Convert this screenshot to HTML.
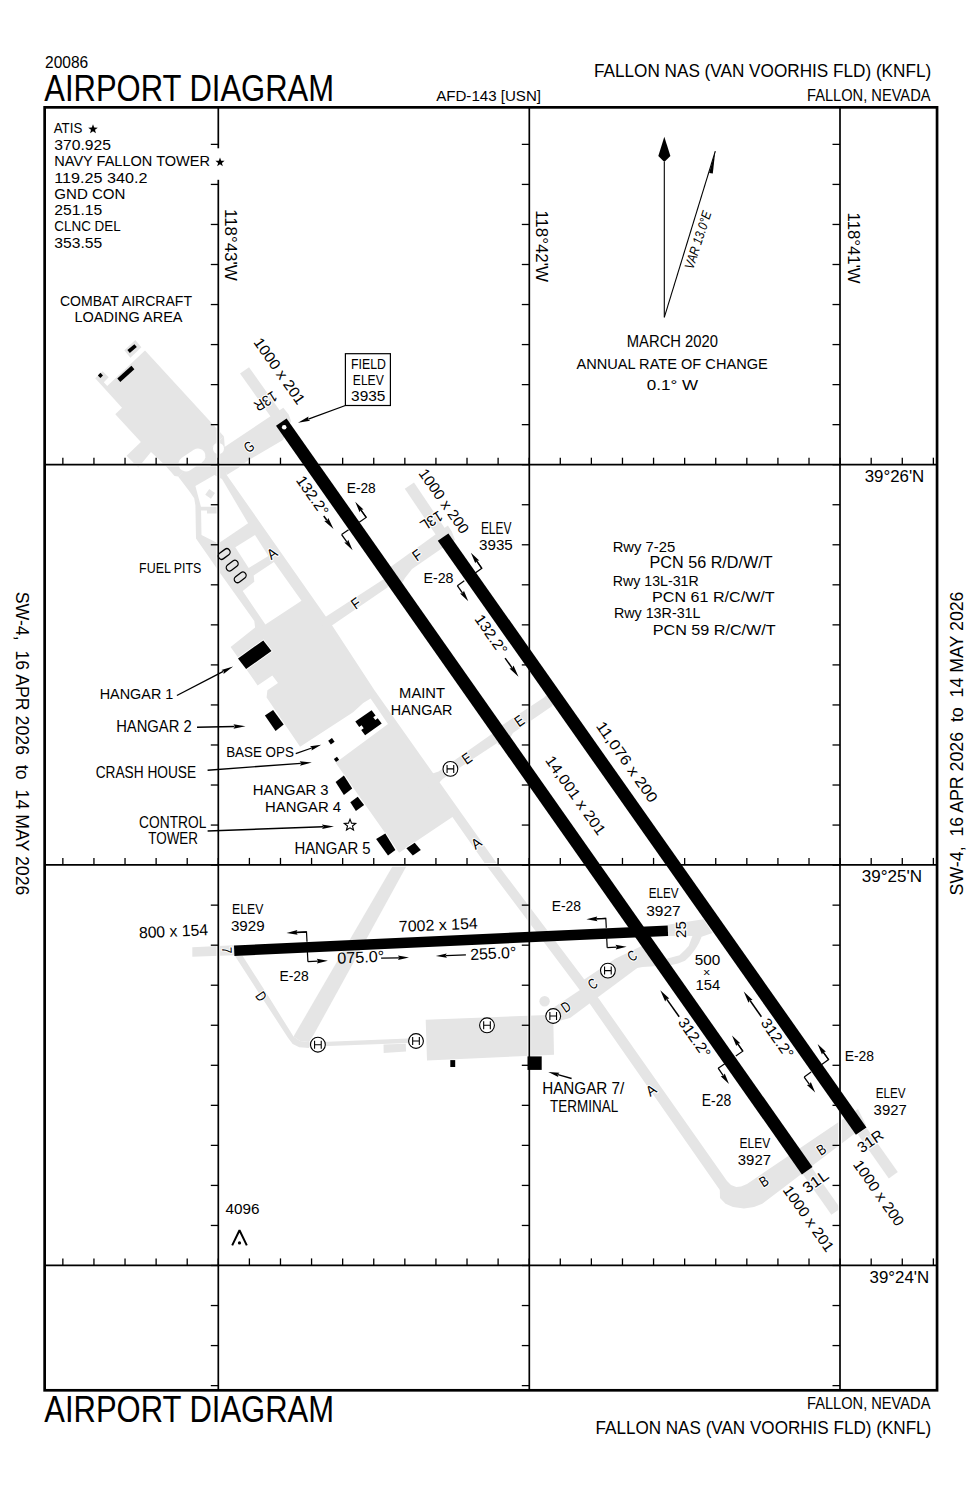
<!DOCTYPE html>
<html><head><meta charset="utf-8"><style>
html,body{margin:0;padding:0;background:#fff;}
svg{display:block;}
text{font-family:"Liberation Sans",sans-serif;fill:#000;}
</style></head><body>
<svg width="979" height="1500" viewBox="0 0 979 1500">
<rect x="0" y="0" width="979" height="1500" fill="#fff"/>
<polygon points="145.0,350.5 224.0,436.5 214.8,444.1 205.0,455.0 178.1,476.6 174.6,476.1 165.4,465.4 151.0,452.0 138.3,467.4 126.6,455.7 140.9,441.9 115.3,414.3 122.0,407.7 95.2,378.2 102.6,371.2 108.7,377.3 103.8,382.2 107.2,385.9" fill="#e5e5e5"/>
<polygon points="124.3,350.3 135.3,339.9 141.4,347.3 130.4,357.7" fill="#e5e5e5"/>
<polygon points="224.0,436.5 226.7,474.9 332.8,626.5 374.3,690.0 498.0,865.0 599.8,1000.0 727.0,1181.0 731.0,1185.0 736.2,1187.0 741.0,1186.5 747.0,1183.9 858.0,1109.0 866.0,1125.0 762.3,1203.8 754.0,1207.0 743.9,1208.4 733.0,1207.0 725.5,1203.8 720.0,1198.0 719.8,1190.0 587.2,1000.0 485.3,863.9 452.4,817.0 399.1,852.8 335.6,762.7 388.0,724.1 370.6,698.4 363.2,703.0 353.1,712.2 300.1,746.7 266.6,697.6 267.4,690.3 278.0,682.9 272.3,675.6 257.6,685.4 230.6,647.0 255.1,627.4 254.3,620.9 220.0,573.1 196.0,538.6 195.4,505.5 194.2,498.2 189.9,491.9 178.1,476.6" fill="#e5e5e5"/>
<polygon points="221.5,449.0 283.3,407.7 288.7,414.6 291.0,421.0 283.0,440.0 248.0,460.5 238.9,467.4 226.7,474.9" fill="#e5e5e5"/>
<polygon points="285.8,418.9 249.0,367.2 240.0,373.6 276.8,425.3" fill="#e5e5e5"/>
<polygon points="320.0,620.0 326.1,616.5 382.8,579.8 395.0,572.0 387.4,587.4 331.5,625.7 325.0,632.0" fill="#e5e5e5"/>
<polygon points="385.0,571.0 447.9,525.4 451.8,531.5 455.0,540.0 441.0,549.1 412.0,569.0 405.0,578.0 401.0,585.0 393.0,581.0" fill="#e5e5e5"/>
<polygon points="448.7,534.0 414.0,482.6 404.8,488.8 439.5,540.2" fill="#e5e5e5"/>
<polygon points="802.7,1173.9 831.4,1214.8 840.4,1208.5 811.7,1167.5" fill="#e5e5e5"/>
<polygon points="857.7,1134.3 888.8,1178.4 897.8,1172.1 866.7,1127.9" fill="#e5e5e5"/>
<polygon points="425.0,776.0 438.6,771.5 491.5,734.3 500.0,730.0 497.2,742.9 442.9,778.7 430.0,792.0" fill="#e5e5e5"/>
<polygon points="495.0,730.0 544.4,697.2 552.0,690.0 556.0,700.0 551.6,706.5 512.9,732.9 508.0,742.0 498.0,745.0" fill="#e5e5e5"/>
<polygon points="192.3,947.3 234.2,945.2 234.2,955.2 192.3,956.8" fill="#e5e5e5"/>
<polygon points="393.0,865.5 406.8,865.5 338.4,990.0 313.1,1035.8 309.0,1042.0 300.0,1041.0 293.5,1036.6 320.5,990.0" fill="#e5e5e5"/>
<polygon points="235.0,956.0 242.7,956.0 270.6,999.8 293.5,1036.6 300.0,1041.0 309.0,1042.0 309.0,1048.0 299.2,1047.2 292.7,1043.9 287.8,1037.4 264.9,1002.3" fill="#e5e5e5"/>
<polygon points="309.0,1042.4 408.3,1038.4 408.3,1042.9 309.0,1046.8" fill="#e5e5e5"/>
<polygon points="383.5,1044.6 405.8,1043.7 406.0,1051.4 383.7,1052.9" fill="#e5e5e5"/>
<polygon points="425.7,1019.7 553.2,1014.8 554.0,1054.7 427.0,1060.6" fill="#e5e5e5"/>
<polygon points="553.0,1008.0 640.0,950.0 648.0,960.0 570.0,1018.0 555.0,1022.0" fill="#e5e5e5"/>
<circle cx="544.6" cy="1001.3" r="5.2" fill="#e5e5e5"/>
<polygon points="582.0,980.9 615.2,958.8 643.7,945.0 650.0,942.0 657.4,959.8 666.6,958.8 679.5,955.2 685.0,950.0 688.7,946.0 692.4,935.9 667.6,935.9 667.6,924.8 703.4,919.3 712.6,933.1 701.6,936.8 699.0,943.0 695.1,949.6 690.0,956.0 685.0,960.7 678.0,963.5 670.3,965.3 642.7,967.1 626.2,969.9 596.8,991.9" fill="#e5e5e5"/>
<polygon points="195.4,486.0 214.4,475.0 222.0,479.0 248.1,523.3 218.3,543.5 201.5,535.0 201.0,507.0" fill="#fff"/>
<polygon points="235.3,547.2 255.0,535.0 268.4,555.9 248.7,568.1" fill="#fff"/>
<polygon points="242.7,590.9 254.3,581.7 253.7,575.5 273.9,562.1 301.5,600.7 265.4,624.6" fill="#fff"/>
<line x1="186.00" y1="464.00" x2="198.00" y2="456.00" stroke="#fff" stroke-width="15" stroke-linecap="round"/>
<circle cx="218.5" cy="448.5" r="5.5" fill="#fff"/>
<rect x="-3.5" y="-3.5" width="7" height="7" fill="#e5e5e5" transform="translate(210.1,493.9) rotate(35)"/>
<polygon points="200.9,506.8 218.3,506.8 218.3,513.5 207.0,513.5 207.0,510.4 200.9,510.4" fill="#e5e5e5"/>
<line x1="44.65" y1="464.70" x2="937.05" y2="464.70" stroke="#fff" stroke-width="3.6"/>
<line x1="44.65" y1="864.90" x2="937.05" y2="864.90" stroke="#fff" stroke-width="3.6"/>
<line x1="44.65" y1="1265.40" x2="937.05" y2="1265.40" stroke="#fff" stroke-width="3.6"/>
<line x1="218.30" y1="107.35" x2="218.30" y2="1390.30" stroke="#fff" stroke-width="3.6"/>
<line x1="529.30" y1="107.35" x2="529.30" y2="1390.30" stroke="#fff" stroke-width="3.6"/>
<line x1="840.00" y1="107.35" x2="840.00" y2="1390.30" stroke="#fff" stroke-width="3.6"/>
<line x1="44.65" y1="464.70" x2="937.05" y2="464.70" stroke="#000" stroke-width="1.7"/>
<line x1="44.65" y1="864.90" x2="937.05" y2="864.90" stroke="#000" stroke-width="1.7"/>
<line x1="44.65" y1="1265.40" x2="937.05" y2="1265.40" stroke="#000" stroke-width="1.7"/>
<line x1="218.30" y1="107.35" x2="218.30" y2="1390.30" stroke="#000" stroke-width="1.7"/>
<line x1="529.30" y1="107.35" x2="529.30" y2="1390.30" stroke="#000" stroke-width="1.7"/>
<line x1="840.00" y1="107.35" x2="840.00" y2="1390.30" stroke="#000" stroke-width="1.7"/>
<rect x="215" y="148.3" width="6" height="31.5" fill="#fff"/>
<line x1="62.85" y1="457.70" x2="62.85" y2="464.70" stroke="#000" stroke-width="1.3"/>
<line x1="93.94" y1="457.70" x2="93.94" y2="464.70" stroke="#000" stroke-width="1.3"/>
<line x1="125.03" y1="457.70" x2="125.03" y2="464.70" stroke="#000" stroke-width="1.3"/>
<line x1="156.12" y1="457.70" x2="156.12" y2="464.70" stroke="#000" stroke-width="1.3"/>
<line x1="187.21" y1="457.70" x2="187.21" y2="464.70" stroke="#000" stroke-width="1.3"/>
<line x1="218.30" y1="457.70" x2="218.30" y2="464.70" stroke="#000" stroke-width="1.3"/>
<line x1="249.39" y1="457.70" x2="249.39" y2="464.70" stroke="#000" stroke-width="1.3"/>
<line x1="280.48" y1="457.70" x2="280.48" y2="464.70" stroke="#000" stroke-width="1.3"/>
<line x1="311.57" y1="457.70" x2="311.57" y2="464.70" stroke="#000" stroke-width="1.3"/>
<line x1="342.66" y1="457.70" x2="342.66" y2="464.70" stroke="#000" stroke-width="1.3"/>
<line x1="373.75" y1="457.70" x2="373.75" y2="464.70" stroke="#000" stroke-width="1.3"/>
<line x1="404.84" y1="457.70" x2="404.84" y2="464.70" stroke="#000" stroke-width="1.3"/>
<line x1="435.93" y1="457.70" x2="435.93" y2="464.70" stroke="#000" stroke-width="1.3"/>
<line x1="467.02" y1="457.70" x2="467.02" y2="464.70" stroke="#000" stroke-width="1.3"/>
<line x1="498.11" y1="457.70" x2="498.11" y2="464.70" stroke="#000" stroke-width="1.3"/>
<line x1="529.20" y1="457.70" x2="529.20" y2="464.70" stroke="#000" stroke-width="1.3"/>
<line x1="560.29" y1="457.70" x2="560.29" y2="464.70" stroke="#000" stroke-width="1.3"/>
<line x1="591.38" y1="457.70" x2="591.38" y2="464.70" stroke="#000" stroke-width="1.3"/>
<line x1="622.47" y1="457.70" x2="622.47" y2="464.70" stroke="#000" stroke-width="1.3"/>
<line x1="653.56" y1="457.70" x2="653.56" y2="464.70" stroke="#000" stroke-width="1.3"/>
<line x1="684.65" y1="457.70" x2="684.65" y2="464.70" stroke="#000" stroke-width="1.3"/>
<line x1="715.74" y1="457.70" x2="715.74" y2="464.70" stroke="#000" stroke-width="1.3"/>
<line x1="746.83" y1="457.70" x2="746.83" y2="464.70" stroke="#000" stroke-width="1.3"/>
<line x1="777.92" y1="457.70" x2="777.92" y2="464.70" stroke="#000" stroke-width="1.3"/>
<line x1="809.01" y1="457.70" x2="809.01" y2="464.70" stroke="#000" stroke-width="1.3"/>
<line x1="840.10" y1="457.70" x2="840.10" y2="464.70" stroke="#000" stroke-width="1.3"/>
<line x1="871.19" y1="457.70" x2="871.19" y2="464.70" stroke="#000" stroke-width="1.3"/>
<line x1="902.28" y1="457.70" x2="902.28" y2="464.70" stroke="#000" stroke-width="1.3"/>
<line x1="933.37" y1="457.70" x2="933.37" y2="464.70" stroke="#000" stroke-width="1.3"/>
<line x1="62.85" y1="857.90" x2="62.85" y2="864.90" stroke="#000" stroke-width="1.3"/>
<line x1="93.94" y1="857.90" x2="93.94" y2="864.90" stroke="#000" stroke-width="1.3"/>
<line x1="125.03" y1="857.90" x2="125.03" y2="864.90" stroke="#000" stroke-width="1.3"/>
<line x1="156.12" y1="857.90" x2="156.12" y2="864.90" stroke="#000" stroke-width="1.3"/>
<line x1="187.21" y1="857.90" x2="187.21" y2="864.90" stroke="#000" stroke-width="1.3"/>
<line x1="218.30" y1="857.90" x2="218.30" y2="864.90" stroke="#000" stroke-width="1.3"/>
<line x1="249.39" y1="857.90" x2="249.39" y2="864.90" stroke="#000" stroke-width="1.3"/>
<line x1="280.48" y1="857.90" x2="280.48" y2="864.90" stroke="#000" stroke-width="1.3"/>
<line x1="311.57" y1="857.90" x2="311.57" y2="864.90" stroke="#000" stroke-width="1.3"/>
<line x1="342.66" y1="857.90" x2="342.66" y2="864.90" stroke="#000" stroke-width="1.3"/>
<line x1="373.75" y1="857.90" x2="373.75" y2="864.90" stroke="#000" stroke-width="1.3"/>
<line x1="404.84" y1="857.90" x2="404.84" y2="864.90" stroke="#000" stroke-width="1.3"/>
<line x1="435.93" y1="857.90" x2="435.93" y2="864.90" stroke="#000" stroke-width="1.3"/>
<line x1="467.02" y1="857.90" x2="467.02" y2="864.90" stroke="#000" stroke-width="1.3"/>
<line x1="498.11" y1="857.90" x2="498.11" y2="864.90" stroke="#000" stroke-width="1.3"/>
<line x1="529.20" y1="857.90" x2="529.20" y2="864.90" stroke="#000" stroke-width="1.3"/>
<line x1="560.29" y1="857.90" x2="560.29" y2="864.90" stroke="#000" stroke-width="1.3"/>
<line x1="591.38" y1="857.90" x2="591.38" y2="864.90" stroke="#000" stroke-width="1.3"/>
<line x1="622.47" y1="857.90" x2="622.47" y2="864.90" stroke="#000" stroke-width="1.3"/>
<line x1="653.56" y1="857.90" x2="653.56" y2="864.90" stroke="#000" stroke-width="1.3"/>
<line x1="684.65" y1="857.90" x2="684.65" y2="864.90" stroke="#000" stroke-width="1.3"/>
<line x1="715.74" y1="857.90" x2="715.74" y2="864.90" stroke="#000" stroke-width="1.3"/>
<line x1="746.83" y1="857.90" x2="746.83" y2="864.90" stroke="#000" stroke-width="1.3"/>
<line x1="777.92" y1="857.90" x2="777.92" y2="864.90" stroke="#000" stroke-width="1.3"/>
<line x1="809.01" y1="857.90" x2="809.01" y2="864.90" stroke="#000" stroke-width="1.3"/>
<line x1="840.10" y1="857.90" x2="840.10" y2="864.90" stroke="#000" stroke-width="1.3"/>
<line x1="871.19" y1="857.90" x2="871.19" y2="864.90" stroke="#000" stroke-width="1.3"/>
<line x1="902.28" y1="857.90" x2="902.28" y2="864.90" stroke="#000" stroke-width="1.3"/>
<line x1="933.37" y1="857.90" x2="933.37" y2="864.90" stroke="#000" stroke-width="1.3"/>
<line x1="62.85" y1="1258.40" x2="62.85" y2="1265.40" stroke="#000" stroke-width="1.3"/>
<line x1="93.94" y1="1258.40" x2="93.94" y2="1265.40" stroke="#000" stroke-width="1.3"/>
<line x1="125.03" y1="1258.40" x2="125.03" y2="1265.40" stroke="#000" stroke-width="1.3"/>
<line x1="156.12" y1="1258.40" x2="156.12" y2="1265.40" stroke="#000" stroke-width="1.3"/>
<line x1="187.21" y1="1258.40" x2="187.21" y2="1265.40" stroke="#000" stroke-width="1.3"/>
<line x1="218.30" y1="1258.40" x2="218.30" y2="1265.40" stroke="#000" stroke-width="1.3"/>
<line x1="249.39" y1="1258.40" x2="249.39" y2="1265.40" stroke="#000" stroke-width="1.3"/>
<line x1="280.48" y1="1258.40" x2="280.48" y2="1265.40" stroke="#000" stroke-width="1.3"/>
<line x1="311.57" y1="1258.40" x2="311.57" y2="1265.40" stroke="#000" stroke-width="1.3"/>
<line x1="342.66" y1="1258.40" x2="342.66" y2="1265.40" stroke="#000" stroke-width="1.3"/>
<line x1="373.75" y1="1258.40" x2="373.75" y2="1265.40" stroke="#000" stroke-width="1.3"/>
<line x1="404.84" y1="1258.40" x2="404.84" y2="1265.40" stroke="#000" stroke-width="1.3"/>
<line x1="435.93" y1="1258.40" x2="435.93" y2="1265.40" stroke="#000" stroke-width="1.3"/>
<line x1="467.02" y1="1258.40" x2="467.02" y2="1265.40" stroke="#000" stroke-width="1.3"/>
<line x1="498.11" y1="1258.40" x2="498.11" y2="1265.40" stroke="#000" stroke-width="1.3"/>
<line x1="529.20" y1="1258.40" x2="529.20" y2="1265.40" stroke="#000" stroke-width="1.3"/>
<line x1="560.29" y1="1258.40" x2="560.29" y2="1265.40" stroke="#000" stroke-width="1.3"/>
<line x1="591.38" y1="1258.40" x2="591.38" y2="1265.40" stroke="#000" stroke-width="1.3"/>
<line x1="622.47" y1="1258.40" x2="622.47" y2="1265.40" stroke="#000" stroke-width="1.3"/>
<line x1="653.56" y1="1258.40" x2="653.56" y2="1265.40" stroke="#000" stroke-width="1.3"/>
<line x1="684.65" y1="1258.40" x2="684.65" y2="1265.40" stroke="#000" stroke-width="1.3"/>
<line x1="715.74" y1="1258.40" x2="715.74" y2="1265.40" stroke="#000" stroke-width="1.3"/>
<line x1="746.83" y1="1258.40" x2="746.83" y2="1265.40" stroke="#000" stroke-width="1.3"/>
<line x1="777.92" y1="1258.40" x2="777.92" y2="1265.40" stroke="#000" stroke-width="1.3"/>
<line x1="809.01" y1="1258.40" x2="809.01" y2="1265.40" stroke="#000" stroke-width="1.3"/>
<line x1="840.10" y1="1258.40" x2="840.10" y2="1265.40" stroke="#000" stroke-width="1.3"/>
<line x1="871.19" y1="1258.40" x2="871.19" y2="1265.40" stroke="#000" stroke-width="1.3"/>
<line x1="902.28" y1="1258.40" x2="902.28" y2="1265.40" stroke="#000" stroke-width="1.3"/>
<line x1="933.37" y1="1258.40" x2="933.37" y2="1265.40" stroke="#000" stroke-width="1.3"/>
<line x1="210.80" y1="144.38" x2="218.30" y2="144.38" stroke="#000" stroke-width="1.3"/>
<line x1="210.80" y1="184.42" x2="218.30" y2="184.42" stroke="#000" stroke-width="1.3"/>
<line x1="210.80" y1="224.46" x2="218.30" y2="224.46" stroke="#000" stroke-width="1.3"/>
<line x1="210.80" y1="264.50" x2="218.30" y2="264.50" stroke="#000" stroke-width="1.3"/>
<line x1="210.80" y1="304.54" x2="218.30" y2="304.54" stroke="#000" stroke-width="1.3"/>
<line x1="210.80" y1="344.58" x2="218.30" y2="344.58" stroke="#000" stroke-width="1.3"/>
<line x1="210.80" y1="384.62" x2="218.30" y2="384.62" stroke="#000" stroke-width="1.3"/>
<line x1="210.80" y1="424.66" x2="218.30" y2="424.66" stroke="#000" stroke-width="1.3"/>
<line x1="210.80" y1="464.70" x2="218.30" y2="464.70" stroke="#000" stroke-width="1.3"/>
<line x1="210.80" y1="504.74" x2="218.30" y2="504.74" stroke="#000" stroke-width="1.3"/>
<line x1="210.80" y1="544.78" x2="218.30" y2="544.78" stroke="#000" stroke-width="1.3"/>
<line x1="210.80" y1="584.82" x2="218.30" y2="584.82" stroke="#000" stroke-width="1.3"/>
<line x1="210.80" y1="624.86" x2="218.30" y2="624.86" stroke="#000" stroke-width="1.3"/>
<line x1="210.80" y1="664.90" x2="218.30" y2="664.90" stroke="#000" stroke-width="1.3"/>
<line x1="210.80" y1="704.94" x2="218.30" y2="704.94" stroke="#000" stroke-width="1.3"/>
<line x1="210.80" y1="744.98" x2="218.30" y2="744.98" stroke="#000" stroke-width="1.3"/>
<line x1="210.80" y1="785.02" x2="218.30" y2="785.02" stroke="#000" stroke-width="1.3"/>
<line x1="210.80" y1="825.06" x2="218.30" y2="825.06" stroke="#000" stroke-width="1.3"/>
<line x1="210.80" y1="865.10" x2="218.30" y2="865.10" stroke="#000" stroke-width="1.3"/>
<line x1="210.80" y1="905.14" x2="218.30" y2="905.14" stroke="#000" stroke-width="1.3"/>
<line x1="210.80" y1="945.18" x2="218.30" y2="945.18" stroke="#000" stroke-width="1.3"/>
<line x1="210.80" y1="985.22" x2="218.30" y2="985.22" stroke="#000" stroke-width="1.3"/>
<line x1="210.80" y1="1025.26" x2="218.30" y2="1025.26" stroke="#000" stroke-width="1.3"/>
<line x1="210.80" y1="1065.30" x2="218.30" y2="1065.30" stroke="#000" stroke-width="1.3"/>
<line x1="210.80" y1="1105.34" x2="218.30" y2="1105.34" stroke="#000" stroke-width="1.3"/>
<line x1="210.80" y1="1145.38" x2="218.30" y2="1145.38" stroke="#000" stroke-width="1.3"/>
<line x1="210.80" y1="1185.42" x2="218.30" y2="1185.42" stroke="#000" stroke-width="1.3"/>
<line x1="210.80" y1="1225.46" x2="218.30" y2="1225.46" stroke="#000" stroke-width="1.3"/>
<line x1="210.80" y1="1265.50" x2="218.30" y2="1265.50" stroke="#000" stroke-width="1.3"/>
<line x1="210.80" y1="1305.54" x2="218.30" y2="1305.54" stroke="#000" stroke-width="1.3"/>
<line x1="210.80" y1="1345.58" x2="218.30" y2="1345.58" stroke="#000" stroke-width="1.3"/>
<line x1="210.80" y1="1385.62" x2="218.30" y2="1385.62" stroke="#000" stroke-width="1.3"/>
<line x1="521.80" y1="144.38" x2="529.30" y2="144.38" stroke="#000" stroke-width="1.3"/>
<line x1="521.80" y1="184.42" x2="529.30" y2="184.42" stroke="#000" stroke-width="1.3"/>
<line x1="521.80" y1="224.46" x2="529.30" y2="224.46" stroke="#000" stroke-width="1.3"/>
<line x1="521.80" y1="264.50" x2="529.30" y2="264.50" stroke="#000" stroke-width="1.3"/>
<line x1="521.80" y1="304.54" x2="529.30" y2="304.54" stroke="#000" stroke-width="1.3"/>
<line x1="521.80" y1="344.58" x2="529.30" y2="344.58" stroke="#000" stroke-width="1.3"/>
<line x1="521.80" y1="384.62" x2="529.30" y2="384.62" stroke="#000" stroke-width="1.3"/>
<line x1="521.80" y1="424.66" x2="529.30" y2="424.66" stroke="#000" stroke-width="1.3"/>
<line x1="521.80" y1="464.70" x2="529.30" y2="464.70" stroke="#000" stroke-width="1.3"/>
<line x1="521.80" y1="504.74" x2="529.30" y2="504.74" stroke="#000" stroke-width="1.3"/>
<line x1="521.80" y1="544.78" x2="529.30" y2="544.78" stroke="#000" stroke-width="1.3"/>
<line x1="521.80" y1="584.82" x2="529.30" y2="584.82" stroke="#000" stroke-width="1.3"/>
<line x1="521.80" y1="624.86" x2="529.30" y2="624.86" stroke="#000" stroke-width="1.3"/>
<line x1="521.80" y1="664.90" x2="529.30" y2="664.90" stroke="#000" stroke-width="1.3"/>
<line x1="521.80" y1="704.94" x2="529.30" y2="704.94" stroke="#000" stroke-width="1.3"/>
<line x1="521.80" y1="744.98" x2="529.30" y2="744.98" stroke="#000" stroke-width="1.3"/>
<line x1="521.80" y1="785.02" x2="529.30" y2="785.02" stroke="#000" stroke-width="1.3"/>
<line x1="521.80" y1="825.06" x2="529.30" y2="825.06" stroke="#000" stroke-width="1.3"/>
<line x1="521.80" y1="865.10" x2="529.30" y2="865.10" stroke="#000" stroke-width="1.3"/>
<line x1="521.80" y1="905.14" x2="529.30" y2="905.14" stroke="#000" stroke-width="1.3"/>
<line x1="521.80" y1="945.18" x2="529.30" y2="945.18" stroke="#000" stroke-width="1.3"/>
<line x1="521.80" y1="985.22" x2="529.30" y2="985.22" stroke="#000" stroke-width="1.3"/>
<line x1="521.80" y1="1025.26" x2="529.30" y2="1025.26" stroke="#000" stroke-width="1.3"/>
<line x1="521.80" y1="1065.30" x2="529.30" y2="1065.30" stroke="#000" stroke-width="1.3"/>
<line x1="521.80" y1="1105.34" x2="529.30" y2="1105.34" stroke="#000" stroke-width="1.3"/>
<line x1="521.80" y1="1145.38" x2="529.30" y2="1145.38" stroke="#000" stroke-width="1.3"/>
<line x1="521.80" y1="1185.42" x2="529.30" y2="1185.42" stroke="#000" stroke-width="1.3"/>
<line x1="521.80" y1="1225.46" x2="529.30" y2="1225.46" stroke="#000" stroke-width="1.3"/>
<line x1="521.80" y1="1265.50" x2="529.30" y2="1265.50" stroke="#000" stroke-width="1.3"/>
<line x1="521.80" y1="1305.54" x2="529.30" y2="1305.54" stroke="#000" stroke-width="1.3"/>
<line x1="521.80" y1="1345.58" x2="529.30" y2="1345.58" stroke="#000" stroke-width="1.3"/>
<line x1="521.80" y1="1385.62" x2="529.30" y2="1385.62" stroke="#000" stroke-width="1.3"/>
<line x1="832.50" y1="144.38" x2="840.00" y2="144.38" stroke="#000" stroke-width="1.3"/>
<line x1="832.50" y1="184.42" x2="840.00" y2="184.42" stroke="#000" stroke-width="1.3"/>
<line x1="832.50" y1="224.46" x2="840.00" y2="224.46" stroke="#000" stroke-width="1.3"/>
<line x1="832.50" y1="264.50" x2="840.00" y2="264.50" stroke="#000" stroke-width="1.3"/>
<line x1="832.50" y1="304.54" x2="840.00" y2="304.54" stroke="#000" stroke-width="1.3"/>
<line x1="832.50" y1="344.58" x2="840.00" y2="344.58" stroke="#000" stroke-width="1.3"/>
<line x1="832.50" y1="384.62" x2="840.00" y2="384.62" stroke="#000" stroke-width="1.3"/>
<line x1="832.50" y1="424.66" x2="840.00" y2="424.66" stroke="#000" stroke-width="1.3"/>
<line x1="832.50" y1="464.70" x2="840.00" y2="464.70" stroke="#000" stroke-width="1.3"/>
<line x1="832.50" y1="504.74" x2="840.00" y2="504.74" stroke="#000" stroke-width="1.3"/>
<line x1="832.50" y1="544.78" x2="840.00" y2="544.78" stroke="#000" stroke-width="1.3"/>
<line x1="832.50" y1="584.82" x2="840.00" y2="584.82" stroke="#000" stroke-width="1.3"/>
<line x1="832.50" y1="624.86" x2="840.00" y2="624.86" stroke="#000" stroke-width="1.3"/>
<line x1="832.50" y1="664.90" x2="840.00" y2="664.90" stroke="#000" stroke-width="1.3"/>
<line x1="832.50" y1="704.94" x2="840.00" y2="704.94" stroke="#000" stroke-width="1.3"/>
<line x1="832.50" y1="744.98" x2="840.00" y2="744.98" stroke="#000" stroke-width="1.3"/>
<line x1="832.50" y1="785.02" x2="840.00" y2="785.02" stroke="#000" stroke-width="1.3"/>
<line x1="832.50" y1="825.06" x2="840.00" y2="825.06" stroke="#000" stroke-width="1.3"/>
<line x1="832.50" y1="865.10" x2="840.00" y2="865.10" stroke="#000" stroke-width="1.3"/>
<line x1="832.50" y1="905.14" x2="840.00" y2="905.14" stroke="#000" stroke-width="1.3"/>
<line x1="832.50" y1="945.18" x2="840.00" y2="945.18" stroke="#000" stroke-width="1.3"/>
<line x1="832.50" y1="985.22" x2="840.00" y2="985.22" stroke="#000" stroke-width="1.3"/>
<line x1="832.50" y1="1025.26" x2="840.00" y2="1025.26" stroke="#000" stroke-width="1.3"/>
<line x1="832.50" y1="1065.30" x2="840.00" y2="1065.30" stroke="#000" stroke-width="1.3"/>
<line x1="832.50" y1="1105.34" x2="840.00" y2="1105.34" stroke="#000" stroke-width="1.3"/>
<line x1="832.50" y1="1145.38" x2="840.00" y2="1145.38" stroke="#000" stroke-width="1.3"/>
<line x1="832.50" y1="1185.42" x2="840.00" y2="1185.42" stroke="#000" stroke-width="1.3"/>
<line x1="832.50" y1="1225.46" x2="840.00" y2="1225.46" stroke="#000" stroke-width="1.3"/>
<line x1="832.50" y1="1265.50" x2="840.00" y2="1265.50" stroke="#000" stroke-width="1.3"/>
<line x1="832.50" y1="1305.54" x2="840.00" y2="1305.54" stroke="#000" stroke-width="1.3"/>
<line x1="832.50" y1="1345.58" x2="840.00" y2="1345.58" stroke="#000" stroke-width="1.3"/>
<line x1="832.50" y1="1385.62" x2="840.00" y2="1385.62" stroke="#000" stroke-width="1.3"/>
<rect x="44.65" y="107.35" width="892.4" height="1282.95" fill="none" stroke="#000" stroke-width="2.7"/>
<polygon points="276.0,425.8 801.9,1174.4 812.5,1167.0 286.6,418.4" fill="#000"/>
<polygon points="437.8,540.8 855.9,1134.8 866.5,1127.4 448.4,533.4" fill="#000"/>
<polygon points="234.4,955.9 668.1,935.9 667.7,925.5 234.0,945.5" fill="#000"/>
<circle cx="284.2" cy="427.3" r="2.3" fill="#fff"/>
<polygon points="129.8,352.9 136.8,347.1 134.4,344.3 127.4,350.1" fill="#000"/>
<polygon points="120.3,382.0 134.4,369.2 131.4,365.8 117.3,378.6" fill="#000"/>
<rect x="-1.8" y="-1.8" width="3.6" height="3.6" fill="#000" transform="translate(100.4,375.4) rotate(45)"/>
<rect x="-6.6" y="-3.3" width="13.2" height="6.6" rx="3.3" ry="3.3" fill="none" stroke="#000" stroke-width="1.3" transform="translate(224.2,554) rotate(-37)"/>
<rect x="-6.6" y="-3.3" width="13.2" height="6.6" rx="3.3" ry="3.3" fill="none" stroke="#000" stroke-width="1.3" transform="translate(232.2,565.6) rotate(-37)"/>
<rect x="-6.6" y="-3.3" width="13.2" height="6.6" rx="3.3" ry="3.3" fill="none" stroke="#000" stroke-width="1.3" transform="translate(240.2,577.3) rotate(-37)"/>
<polygon points="238.0,658.4 263.3,640.4 271.5,651.0 246.1,669.0" fill="#000" stroke="#fff" stroke-width="1.8" paint-order="stroke" stroke-linejoin="miter"/>
<polygon points="264.9,715.6 273.1,709.9 283.7,724.6 275.6,731.1" fill="#000" stroke="#fff" stroke-width="1.8" paint-order="stroke" stroke-linejoin="miter"/>
<polyline points="359.2,522.3 366.2,517.4 359.3,507.6" fill="none" stroke="#000" stroke-width="1.2"/>
<line x1="366.17" y1="517.37" x2="360.99" y2="510.01" stroke="#000" stroke-width="1.3"/>
<polygon points="355.2,501.8 363.5,509.4 360.9,509.8 359.6,512.2" fill="#000"/>
<polyline points="348.6,529.7 341.6,534.6" fill="none" stroke="#000" stroke-width="1.2"/>
<line x1="341.63" y1="534.63" x2="346.81" y2="541.99" stroke="#000" stroke-width="1.3"/>
<polygon points="352.6,550.2 344.3,542.6 346.9,542.2 348.2,539.8" fill="#000"/>
<polyline points="474.9,573.2 481.8,568.3 474.9,558.5" fill="none" stroke="#000" stroke-width="1.2"/>
<line x1="481.85" y1="568.34" x2="476.66" y2="560.99" stroke="#000" stroke-width="1.3"/>
<polygon points="470.9,552.8 479.2,560.4 476.5,560.8 475.3,563.2" fill="#000"/>
<polyline points="464.3,580.8 457.4,585.7" fill="none" stroke="#000" stroke-width="1.2"/>
<line x1="457.35" y1="585.66" x2="462.54" y2="593.01" stroke="#000" stroke-width="1.3"/>
<polygon points="468.3,601.2 460.0,593.6 462.7,593.2 463.9,590.8" fill="#000"/>
<polyline points="735.8,1056.0 742.8,1051.2 736.0,1041.3" fill="none" stroke="#000" stroke-width="1.2"/>
<line x1="742.84" y1="1051.17" x2="737.72" y2="1043.77" stroke="#000" stroke-width="1.3"/>
<polygon points="732.0,1035.5 740.3,1043.2 737.6,1043.6 736.3,1046.0" fill="#000"/>
<polyline points="725.2,1063.4 718.2,1068.2" fill="none" stroke="#000" stroke-width="1.2"/>
<line x1="718.16" y1="1068.23" x2="723.28" y2="1075.63" stroke="#000" stroke-width="1.3"/>
<polygon points="729.0,1083.9 720.7,1076.2 723.4,1075.8 724.7,1073.4" fill="#000"/>
<polyline points="821.7,1064.5 828.6,1059.6 821.6,1049.8" fill="none" stroke="#000" stroke-width="1.2"/>
<line x1="828.61" y1="1059.59" x2="823.38" y2="1052.26" stroke="#000" stroke-width="1.3"/>
<polygon points="817.6,1044.1 825.9,1051.7 823.3,1052.1 822.0,1054.5" fill="#000"/>
<polyline points="811.1,1072.1 804.2,1077.0" fill="none" stroke="#000" stroke-width="1.2"/>
<line x1="804.19" y1="1077.01" x2="809.42" y2="1084.34" stroke="#000" stroke-width="1.3"/>
<polygon points="815.2,1092.5 806.9,1084.9 809.5,1084.5 810.8,1082.1" fill="#000"/>
<polyline points="307.0,941.7 306.5,932.0 293.5,932.6" fill="none" stroke="#000" stroke-width="1.2"/>
<line x1="306.52" y1="932.02" x2="296.53" y2="932.48" stroke="#000" stroke-width="1.3"/>
<polygon points="286.5,932.9 297.4,930.0 296.3,932.5 297.6,934.8" fill="#000"/>
<polyline points="307.4,951.9 307.9,961.6" fill="none" stroke="#000" stroke-width="1.2"/>
<line x1="307.88" y1="961.58" x2="317.87" y2="961.12" stroke="#000" stroke-width="1.3"/>
<polygon points="327.9,960.7 317.0,963.6 318.1,961.1 316.8,958.8" fill="#000"/>
<polyline points="606.3,927.9 605.8,918.4 593.3,919.0" fill="none" stroke="#000" stroke-width="1.2"/>
<line x1="605.83" y1="918.42" x2="596.34" y2="918.85" stroke="#000" stroke-width="1.3"/>
<polygon points="586.4,919.3 597.2,916.4 596.1,918.9 597.5,921.2" fill="#000"/>
<polyline points="606.7,938.1 607.2,947.6" fill="none" stroke="#000" stroke-width="1.2"/>
<line x1="607.17" y1="947.58" x2="616.66" y2="947.15" stroke="#000" stroke-width="1.3"/>
<polygon points="626.6,946.7 615.8,949.6 616.9,947.1 615.5,944.8" fill="#000"/>
<circle cx="450.4" cy="768.9" r="7.4" fill="#fff" stroke="#000" stroke-width="1.1"/>
<path d="M447.07,764.90V772.90M453.73,764.90V772.90M447.07,768.90H453.73" stroke="#000" stroke-width="1.1" fill="none"/>
<circle cx="317.9" cy="1044.7" r="7.4" fill="#fff" stroke="#000" stroke-width="1.1"/>
<path d="M314.57,1040.70V1048.70M321.23,1040.70V1048.70M314.57,1044.70H321.23" stroke="#000" stroke-width="1.1" fill="none"/>
<circle cx="416" cy="1041" r="7.4" fill="#fff" stroke="#000" stroke-width="1.1"/>
<path d="M412.67,1037.00V1045.00M419.33,1037.00V1045.00M412.67,1041.00H419.33" stroke="#000" stroke-width="1.1" fill="none"/>
<circle cx="487" cy="1025.3" r="7.4" fill="#fff" stroke="#000" stroke-width="1.1"/>
<path d="M483.67,1021.30V1029.30M490.33,1021.30V1029.30M483.67,1025.30H490.33" stroke="#000" stroke-width="1.1" fill="none"/>
<circle cx="553.2" cy="1016" r="7.4" fill="#fff" stroke="#000" stroke-width="1.1"/>
<path d="M549.87,1012.00V1020.00M556.53,1012.00V1020.00M549.87,1016.00H556.53" stroke="#000" stroke-width="1.1" fill="none"/>
<circle cx="607.9" cy="970.6" r="7.4" fill="#fff" stroke="#000" stroke-width="1.1"/>
<path d="M604.57,966.60V974.60M611.23,966.60V974.60M604.57,970.60H611.23" stroke="#000" stroke-width="1.1" fill="none"/>
<polygon points="335.6,782.0 343.9,775.6 352.2,788.5 343.9,794.9" fill="#000" stroke="#fff" stroke-width="1.8" paint-order="stroke" stroke-linejoin="miter"/>
<polygon points="350.3,802.3 357.7,796.8 364.1,805.0 355.9,810.9" fill="#000" stroke="#fff" stroke-width="1.8" paint-order="stroke" stroke-linejoin="miter"/>
<polygon points="376.1,839.0 385.3,833.5 395.4,850.1 388.0,855.6" fill="#000" stroke="#fff" stroke-width="1.8" paint-order="stroke" stroke-linejoin="miter"/>
<polygon points="406.4,848.2 414.7,842.7 420.8,850.1 412.8,855.6" fill="#000" stroke="#fff" stroke-width="1.8" paint-order="stroke" stroke-linejoin="miter"/>
<polygon points="355.3,721.6 371.6,710.2 375.6,715.4 373.2,717.2 375.4,720.1 377.7,718.2 381.7,723.4 365.1,735.3 361.2,729.9 363.7,728.2 361.6,725.2 359.2,727.0" fill="#000" stroke="#fff" stroke-width="1.8" paint-order="stroke" stroke-linejoin="miter"/>
<rect x="-2.3" y="-2.3" width="4.6" height="4.6" fill="#000" transform="translate(331.4,741.2) rotate(-35)"/>
<rect x="-1.9" y="-1.9" width="3.8" height="3.8" fill="#000" transform="translate(336.5,759.4) rotate(-35)"/>
<polygon points="527.5,1056.4 541.7,1056.4 541.7,1069.9 527.5,1069.9" fill="#000"/>
<polygon points="450.3,1060.1 455.2,1060.1 455.2,1067.0 450.3,1067.0" fill="#000"/>
<polygon points="350.00,819.20 351.53,823.10 355.71,823.35 352.47,826.00 353.53,830.05 350.00,827.80 346.47,830.05 347.53,826.00 344.29,823.35 348.47,823.10" fill="#fff" stroke="#000" stroke-width="1.1"/>
<polygon points="93.0,124.2 94.2,127.5 97.8,127.7 95.0,129.8 95.9,133.2 93.0,131.3 90.1,133.2 91.0,129.8 88.2,127.7 91.8,127.5" fill="#000"/>
<polygon points="220.0,157.5 221.2,160.7 224.6,160.8 221.9,162.9 222.8,166.2 220.0,164.3 217.2,166.2 218.1,162.9 215.4,160.8 218.8,160.7" fill="#000"/>
<rect x="345.4" y="353.7" width="45" height="51.8" fill="#fff" stroke="#000" stroke-width="1.2"/>
<text x="351.10" y="368.90" font-size="14.97" textLength="34.80" lengthAdjust="spacingAndGlyphs">FIELD</text>
<text x="352.80" y="384.70" font-size="15.41" textLength="31.00" lengthAdjust="spacingAndGlyphs">ELEV</text>
<text x="351.10" y="400.60" font-size="14.68" textLength="34.30" lengthAdjust="spacingAndGlyphs">3935</text>
<line x1="345.40" y1="405.50" x2="308.33" y2="419.03" stroke="#000" stroke-width="1.3"/>
<polygon points="298.0,422.8 308.5,416.5 307.9,419.2 310.1,420.8" fill="#000"/>
<line x1="664.30" y1="162.00" x2="664.30" y2="317.30" stroke="#000" stroke-width="1.1"/>
<polygon points="664.3,136.7 670.4,156.0 664.3,162.0 658.3,156.0" fill="#000"/>
<line x1="664.30" y1="317.30" x2="715.30" y2="151.10" stroke="#000" stroke-width="1.1"/>
<polygon points="715.3,151.1 709.1,172.9 712.8,173.6" fill="#000"/>
<text transform="translate(693.07,269.93) rotate(-71.93)" x="0" y="0" font-size="13.37" textLength="59.96" lengthAdjust="spacingAndGlyphs" font-style="italic">VAR 13.0°E</text>
<text x="626.80" y="347.20" font-size="15.70" textLength="91.20" lengthAdjust="spacingAndGlyphs">MARCH 2020</text>
<text x="576.40" y="368.60" font-size="15.55" textLength="191.40" lengthAdjust="spacingAndGlyphs">ANNUAL RATE OF CHANGE</text>
<text x="646.80" y="389.60" font-size="15.55" textLength="51.30" lengthAdjust="spacingAndGlyphs">0.1° W</text>
<text x="53.70" y="133.40" font-size="14.83" textLength="28.60" lengthAdjust="spacingAndGlyphs">ATIS</text>
<text x="54.30" y="149.50" font-size="14.83" textLength="56.70" lengthAdjust="spacingAndGlyphs">370.925</text>
<text x="54.30" y="165.80" font-size="14.53" textLength="155.70" lengthAdjust="spacingAndGlyphs">NAVY FALLON TOWER</text>
<text x="54.30" y="182.50" font-size="14.97" textLength="93.20" lengthAdjust="spacingAndGlyphs">119.25 340.2</text>
<text x="54.30" y="198.80" font-size="15.12" textLength="71.20" lengthAdjust="spacingAndGlyphs">GND CON</text>
<text x="54.30" y="215.00" font-size="14.97" textLength="47.90" lengthAdjust="spacingAndGlyphs">251.15</text>
<text x="54.30" y="231.40" font-size="15.41" textLength="66.40" lengthAdjust="spacingAndGlyphs">CLNC DEL</text>
<text x="54.30" y="247.50" font-size="15.41" textLength="47.90" lengthAdjust="spacingAndGlyphs">353.55</text>
<text x="59.90" y="306.30" font-size="14.97" textLength="132.10" lengthAdjust="spacingAndGlyphs">COMBAT AIRCRAFT</text>
<text x="74.50" y="322.00" font-size="15.41" textLength="108.00" lengthAdjust="spacingAndGlyphs">LOADING AREA</text>
<text transform="translate(224.70,209.00) rotate(90.00)" x="0" y="0" font-size="16.57" textLength="71.70" lengthAdjust="spacingAndGlyphs">118°43'W</text>
<text transform="translate(535.50,210.20) rotate(90.00)" x="0" y="0" font-size="16.57" textLength="71.70" lengthAdjust="spacingAndGlyphs">118°42'W</text>
<text transform="translate(848.30,212.60) rotate(90.00)" x="0" y="0" font-size="16.57" textLength="71.10" lengthAdjust="spacingAndGlyphs">118°41'W</text>
<text x="864.70" y="481.60" font-size="15.70" textLength="59.60" lengthAdjust="spacingAndGlyphs">39°26'N</text>
<text x="861.80" y="881.80" font-size="15.99" textLength="60.40" lengthAdjust="spacingAndGlyphs">39°25'N</text>
<text x="869.60" y="1283.20" font-size="15.70" textLength="59.60" lengthAdjust="spacingAndGlyphs">39°24'N</text>
<text transform="translate(252.89,342.26) rotate(54.87)" x="0" y="0" font-size="14.97" textLength="77.52" lengthAdjust="spacingAndGlyphs">1000 x 201</text>
<text transform="translate(273.07,390.52) rotate(148.00)" x="0" y="0" font-size="14.83" textLength="24.00" lengthAdjust="spacingAndGlyphs" stroke="#fff" stroke-width="2.2" paint-order="stroke" stroke-linejoin="round">13R</text>
<text transform="translate(248.18,453.48) rotate(-35.00)" x="0" y="0" font-size="14.53" textLength="9.00" lengthAdjust="spacingAndGlyphs" stroke="#fff" stroke-width="2.2" paint-order="stroke" stroke-linejoin="round">G</text>
<text transform="translate(295.38,480.16) rotate(54.97)" x="0" y="0" font-size="14.97" textLength="44.94" lengthAdjust="spacingAndGlyphs">132.2°</text>
<line x1="323.70" y1="516.00" x2="326.88" y2="520.22" stroke="#000" stroke-width="1.5"/>
<polygon points="333.5,529.0 324.3,520.9 327.1,520.5 328.3,517.9" fill="#000"/>
<text x="346.70" y="492.70" font-size="15.12" textLength="29.10" lengthAdjust="spacingAndGlyphs">E-28</text>
<text transform="translate(417.99,473.27) rotate(54.83)" x="0" y="0" font-size="14.97" textLength="75.35" lengthAdjust="spacingAndGlyphs">1000 x 200</text>
<text transform="translate(438.76,510.25) rotate(148.00)" x="0" y="0" font-size="14.83" textLength="23.50" lengthAdjust="spacingAndGlyphs" stroke="#fff" stroke-width="2.2" paint-order="stroke" stroke-linejoin="round">13L</text>
<text x="480.90" y="533.80" font-size="15.99" textLength="30.60" lengthAdjust="spacingAndGlyphs">ELEV</text>
<text x="479.10" y="550.10" font-size="15.55" textLength="33.70" lengthAdjust="spacingAndGlyphs">3935</text>
<text x="423.40" y="582.80" font-size="14.83" textLength="30.10" lengthAdjust="spacingAndGlyphs">E-28</text>
<text transform="translate(473.98,619.06) rotate(54.97)" x="0" y="0" font-size="14.97" textLength="44.94" lengthAdjust="spacingAndGlyphs">132.2°</text>
<line x1="505.10" y1="658.10" x2="512.09" y2="667.86" stroke="#000" stroke-width="1.5"/>
<polygon points="518.5,676.8 509.5,668.5 512.3,668.1 513.5,665.6" fill="#000"/>
<text x="612.70" y="551.90" font-size="15.55" textLength="62.50" lengthAdjust="spacingAndGlyphs">Rwy 7-25</text>
<text x="649.60" y="568.40" font-size="15.70" textLength="123.00" lengthAdjust="spacingAndGlyphs">PCN 56 R/D/W/T</text>
<text x="612.70" y="585.60" font-size="15.55" textLength="86.00" lengthAdjust="spacingAndGlyphs">Rwy 13L-31R</text>
<text x="652.10" y="601.90" font-size="15.41" textLength="122.60" lengthAdjust="spacingAndGlyphs">PCN 61 R/C/W/T</text>
<text x="613.90" y="618.30" font-size="15.55" textLength="86.60" lengthAdjust="spacingAndGlyphs">Rwy 13R-31L</text>
<text x="652.70" y="634.60" font-size="15.41" textLength="123.00" lengthAdjust="spacingAndGlyphs">PCN 59 R/C/W/T</text>
<text transform="translate(595.48,725.96) rotate(54.94)" x="0" y="0" font-size="14.97" textLength="95.05" lengthAdjust="spacingAndGlyphs">11,076 x 200</text>
<text transform="translate(544.69,760.36) rotate(54.91)" x="0" y="0" font-size="14.97" textLength="92.88" lengthAdjust="spacingAndGlyphs">14,001 x 201</text>
<text x="139.10" y="572.50" font-size="15.55" textLength="62.30" lengthAdjust="spacingAndGlyphs">FUEL PITS</text>
<text x="99.70" y="698.50" font-size="15.41" textLength="73.60" lengthAdjust="spacingAndGlyphs">HANGAR 1</text>
<line x1="176.90" y1="695.50" x2="223.33" y2="671.46" stroke="#000" stroke-width="1.4"/>
<polygon points="233.1,666.4 223.5,674.0 223.8,671.2 221.4,669.9" fill="#000"/>
<text x="116.20" y="731.90" font-size="15.99" textLength="75.50" lengthAdjust="spacingAndGlyphs">HANGAR 2</text>
<line x1="197.00" y1="727.30" x2="234.50" y2="726.53" stroke="#000" stroke-width="1.4"/>
<polygon points="245.5,726.3 233.5,728.8 235.0,726.5 233.5,724.2" fill="#000"/>
<text x="226.20" y="756.70" font-size="15.55" textLength="67.70" lengthAdjust="spacingAndGlyphs">BASE OPS</text>
<line x1="295.70" y1="753.60" x2="311.76" y2="748.00" stroke="#000" stroke-width="1.3"/>
<polygon points="321.2,744.7 311.5,750.4 312.0,747.9 310.1,746.2" fill="#000"/>
<text x="95.70" y="777.90" font-size="15.99" textLength="100.40" lengthAdjust="spacingAndGlyphs">CRASH HOUSE</text>
<line x1="207.60" y1="770.20" x2="300.83" y2="763.40" stroke="#000" stroke-width="1.4"/>
<polygon points="311.8,762.6 300.0,765.8 301.3,763.4 299.7,761.2" fill="#000"/>
<text x="252.80" y="794.50" font-size="14.83" textLength="75.80" lengthAdjust="spacingAndGlyphs">HANGAR 3</text>
<text x="265.00" y="812.40" font-size="15.26" textLength="76.10" lengthAdjust="spacingAndGlyphs">HANGAR 4</text>
<text x="139.10" y="827.70" font-size="15.99" textLength="67.20" lengthAdjust="spacingAndGlyphs">CONTROL</text>
<text x="148.30" y="844.30" font-size="15.99" textLength="49.60" lengthAdjust="spacingAndGlyphs">TOWER</text>
<line x1="207.60" y1="831.00" x2="323.01" y2="826.80" stroke="#000" stroke-width="1.4"/>
<polygon points="334.0,826.4 322.1,829.1 323.5,826.8 321.9,824.5" fill="#000"/>
<text x="294.40" y="853.70" font-size="15.70" textLength="76.20" lengthAdjust="spacingAndGlyphs">HANGAR 5</text>
<text x="399.10" y="697.80" font-size="14.68" textLength="45.90" lengthAdjust="spacingAndGlyphs">MAINT</text>
<text x="390.80" y="714.90" font-size="15.41" textLength="61.60" lengthAdjust="spacingAndGlyphs">HANGAR</text>
<text transform="translate(271.18,560.18) rotate(-35.00)" x="0" y="0" font-size="14.53" textLength="9.00" lengthAdjust="spacingAndGlyphs" stroke="#fff" stroke-width="2.2" paint-order="stroke" stroke-linejoin="round">A</text>
<text transform="translate(475.48,849.88) rotate(-35.00)" x="0" y="0" font-size="14.53" textLength="9.00" lengthAdjust="spacingAndGlyphs" stroke="#fff" stroke-width="2.2" paint-order="stroke" stroke-linejoin="round">A</text>
<text transform="translate(650.18,1096.98) rotate(-35.00)" x="0" y="0" font-size="14.53" textLength="9.00" lengthAdjust="spacingAndGlyphs" stroke="#fff" stroke-width="2.2" paint-order="stroke" stroke-linejoin="round">A</text>
<text transform="translate(355.55,610.10) rotate(-35.00)" x="0" y="0" font-size="14.97" textLength="8.30" lengthAdjust="spacingAndGlyphs" stroke="#fff" stroke-width="2.2" paint-order="stroke" stroke-linejoin="round">F</text>
<text transform="translate(416.85,561.80) rotate(-35.00)" x="0" y="0" font-size="14.97" textLength="8.30" lengthAdjust="spacingAndGlyphs" stroke="#fff" stroke-width="2.2" paint-order="stroke" stroke-linejoin="round">F</text>
<text transform="translate(466.55,764.90) rotate(-35.00)" x="0" y="0" font-size="14.97" textLength="8.30" lengthAdjust="spacingAndGlyphs" stroke="#fff" stroke-width="2.2" paint-order="stroke" stroke-linejoin="round">E</text>
<text transform="translate(518.95,727.40) rotate(-35.00)" x="0" y="0" font-size="14.97" textLength="8.30" lengthAdjust="spacingAndGlyphs" stroke="#fff" stroke-width="2.2" paint-order="stroke" stroke-linejoin="round">E</text>
<text transform="translate(139.15,938.19) rotate(-2.57)" x="0" y="0" font-size="15.99" textLength="69.07" lengthAdjust="spacingAndGlyphs">800 x 154</text>
<text x="232.10" y="914.00" font-size="15.26" textLength="31.20" lengthAdjust="spacingAndGlyphs">ELEV</text>
<text x="230.90" y="931.00" font-size="15.55" textLength="33.70" lengthAdjust="spacingAndGlyphs">3929</text>
<text transform="translate(222.11,947.17) rotate(87.40)" x="0" y="0" font-size="13.81" textLength="6.50" lengthAdjust="spacingAndGlyphs" stroke="#fff" stroke-width="2.2" paint-order="stroke" stroke-linejoin="round">7</text>
<text x="279.40" y="981.40" font-size="14.83" textLength="29.40" lengthAdjust="spacingAndGlyphs">E-28</text>
<text transform="translate(337.46,963.79) rotate(-2.67)" x="0" y="0" font-size="15.99" textLength="47.15" lengthAdjust="spacingAndGlyphs">075.0°</text>
<line x1="381.10" y1="958.20" x2="399.00" y2="957.82" stroke="#000" stroke-width="1.3"/>
<polygon points="409.0,957.6 398.0,960.0 399.3,957.8 398.0,955.6" fill="#000"/>
<text transform="translate(399.12,931.85) rotate(-2.33)" x="0" y="0" font-size="15.55" textLength="78.86" lengthAdjust="spacingAndGlyphs">7002 x 154</text>
<line x1="465.90" y1="954.80" x2="445.79" y2="955.60" stroke="#000" stroke-width="1.3"/>
<polygon points="435.8,956.0 446.7,953.4 445.5,955.6 446.9,957.8" fill="#000"/>
<text transform="translate(470.45,959.89) rotate(-2.61)" x="0" y="0" font-size="15.99" textLength="46.15" lengthAdjust="spacingAndGlyphs">255.0°</text>
<text transform="translate(254.81,995.89) rotate(55.00)" x="0" y="0" font-size="14.53" textLength="8.00" lengthAdjust="spacingAndGlyphs" stroke="#fff" stroke-width="2.2" paint-order="stroke" stroke-linejoin="round">D</text>
<text x="551.70" y="911.10" font-size="14.83" textLength="29.40" lengthAdjust="spacingAndGlyphs">E-28</text>
<text x="648.70" y="898.30" font-size="14.10" textLength="29.90" lengthAdjust="spacingAndGlyphs">ELEV</text>
<text x="646.20" y="916.20" font-size="14.83" textLength="34.50" lengthAdjust="spacingAndGlyphs">3927</text>
<text transform="translate(685.70,937.90) rotate(-90.00)" x="0" y="0" font-size="14.53" textLength="16.60" lengthAdjust="spacingAndGlyphs" stroke="#fff" stroke-width="2.2" paint-order="stroke" stroke-linejoin="round">25</text>
<text x="694.70" y="964.70" font-size="14.83" textLength="25.50" lengthAdjust="spacingAndGlyphs">500</text>
<text x="703.60" y="974.90" font-size="9.30" textLength="6.40" lengthAdjust="spacingAndGlyphs">x</text>
<text x="695.50" y="989.70" font-size="14.83" textLength="24.70" lengthAdjust="spacingAndGlyphs">154</text>
<text transform="translate(631.69,962.19) rotate(-35.00)" x="0" y="0" font-size="14.53" textLength="8.00" lengthAdjust="spacingAndGlyphs" stroke="#fff" stroke-width="2.2" paint-order="stroke" stroke-linejoin="round">C</text>
<text transform="translate(592.19,990.29) rotate(-35.00)" x="0" y="0" font-size="14.53" textLength="8.00" lengthAdjust="spacingAndGlyphs" stroke="#fff" stroke-width="2.2" paint-order="stroke" stroke-linejoin="round">C</text>
<text transform="translate(565.39,1013.19) rotate(-35.00)" x="0" y="0" font-size="14.53" textLength="8.00" lengthAdjust="spacingAndGlyphs" stroke="#fff" stroke-width="2.2" paint-order="stroke" stroke-linejoin="round">D</text>
<text x="542.20" y="1094.40" font-size="15.99" textLength="82.10" lengthAdjust="spacingAndGlyphs">HANGAR 7/</text>
<text x="550.00" y="1111.60" font-size="15.99" textLength="68.20" lengthAdjust="spacingAndGlyphs">TERMINAL</text>
<line x1="571.60" y1="1078.50" x2="557.92" y2="1074.63" stroke="#000" stroke-width="1.3"/>
<polygon points="548.3,1071.9 559.5,1072.8 557.6,1074.5 558.3,1077.0" fill="#000"/>
<text transform="translate(677.38,1022.16) rotate(54.97)" x="0" y="0" font-size="14.97" textLength="44.94" lengthAdjust="spacingAndGlyphs">312.2°</text>
<line x1="679.20" y1="1016.80" x2="666.67" y2="999.17" stroke="#000" stroke-width="1.5"/>
<polygon points="660.3,990.2 669.3,998.5 666.5,998.9 665.2,1001.4" fill="#000"/>
<text transform="translate(760.18,1022.86) rotate(54.97)" x="0" y="0" font-size="14.97" textLength="44.94" lengthAdjust="spacingAndGlyphs">312.2°</text>
<line x1="761.40" y1="1016.80" x2="750.01" y2="1000.51" stroke="#000" stroke-width="1.5"/>
<polygon points="743.7,991.5 752.6,999.9 749.8,1000.3 748.5,1002.8" fill="#000"/>
<text x="701.80" y="1105.50" font-size="15.70" textLength="29.40" lengthAdjust="spacingAndGlyphs">E-28</text>
<text x="844.70" y="1061.40" font-size="14.97" textLength="29.40" lengthAdjust="spacingAndGlyphs">E-28</text>
<text x="739.60" y="1148.30" font-size="14.83" textLength="30.60" lengthAdjust="spacingAndGlyphs">ELEV</text>
<text x="737.80" y="1164.90" font-size="14.83" textLength="33.20" lengthAdjust="spacingAndGlyphs">3927</text>
<text transform="translate(806.89,1193.75) rotate(-35.00)" x="0" y="0" font-size="14.97" textLength="28.00" lengthAdjust="spacingAndGlyphs" stroke="#fff" stroke-width="2.2" paint-order="stroke" stroke-linejoin="round">31L</text>
<text transform="translate(782.28,1190.06) rotate(54.95)" x="0" y="0" font-size="14.97" textLength="76.96" lengthAdjust="spacingAndGlyphs">1000 x 201</text>
<text transform="translate(763.17,1187.87) rotate(-33.00)" x="0" y="0" font-size="14.53" textLength="8.00" lengthAdjust="spacingAndGlyphs" stroke="#fff" stroke-width="2.2" paint-order="stroke" stroke-linejoin="round">B</text>
<text transform="translate(820.67,1155.97) rotate(-33.00)" x="0" y="0" font-size="14.53" textLength="8.00" lengthAdjust="spacingAndGlyphs" stroke="#fff" stroke-width="2.2" paint-order="stroke" stroke-linejoin="round">B</text>
<text x="875.70" y="1098.00" font-size="14.83" textLength="29.90" lengthAdjust="spacingAndGlyphs">ELEV</text>
<text x="873.60" y="1115.10" font-size="14.83" textLength="33.20" lengthAdjust="spacingAndGlyphs">3927</text>
<text transform="translate(861.79,1153.45) rotate(-35.00)" x="0" y="0" font-size="14.97" textLength="28.00" lengthAdjust="spacingAndGlyphs" stroke="#fff" stroke-width="2.2" paint-order="stroke" stroke-linejoin="round">31R</text>
<text transform="translate(852.48,1164.45) rotate(55.01)" x="0" y="0" font-size="14.97" textLength="76.90" lengthAdjust="spacingAndGlyphs">1000 x 200</text>
<text x="225.60" y="1214.00" font-size="15.26" textLength="34.00" lengthAdjust="spacingAndGlyphs">4096</text>
<path d="M232.2,1245.4 L239.5,1230.2 L246.8,1245.4" fill="none" stroke="#000" stroke-width="2.0" stroke-linejoin="bevel"/>
<circle cx="239.5" cy="1242.9" r="1.6" fill="#000"/>
<text x="45.10" y="67.80" font-size="15.84" textLength="43.10" lengthAdjust="spacingAndGlyphs">20086</text>
<text x="44.30" y="101.00" font-size="36.63" textLength="289.70" lengthAdjust="spacingAndGlyphs">AIRPORT DIAGRAM</text>
<text x="436.20" y="101.00" font-size="15.55" textLength="104.80" lengthAdjust="spacingAndGlyphs">AFD-143 [USN]</text>
<text x="594.00" y="76.50" font-size="18.75" textLength="337.20" lengthAdjust="spacingAndGlyphs">FALLON NAS (VAN VOORHIS FLD) (KNFL)</text>
<text x="807.00" y="100.80" font-size="16.57" textLength="123.50" lengthAdjust="spacingAndGlyphs">FALLON, NEVADA</text>
<text x="44.30" y="1421.70" font-size="36.63" textLength="289.70" lengthAdjust="spacingAndGlyphs">AIRPORT DIAGRAM</text>
<text x="807.00" y="1408.50" font-size="16.57" textLength="123.40" lengthAdjust="spacingAndGlyphs">FALLON, NEVADA</text>
<text x="595.50" y="1434.00" font-size="18.90" textLength="335.80" lengthAdjust="spacingAndGlyphs">FALLON NAS (VAN VOORHIS FLD) (KNFL)</text>
<text transform="translate(16.25,591.70) rotate(90.00)" x="0" y="0" font-size="18.46" textLength="303.70" lengthAdjust="spacingAndGlyphs" style="white-space:pre">SW-4,  16 APR 2026  to  14 MAY 2026</text>
<text transform="translate(962.85,895.40) rotate(-90.00)" x="0" y="0" font-size="18.46" textLength="303.90" lengthAdjust="spacingAndGlyphs" style="white-space:pre">SW-4,  16 APR 2026  to  14 MAY 2026</text>
</svg></body></html>
